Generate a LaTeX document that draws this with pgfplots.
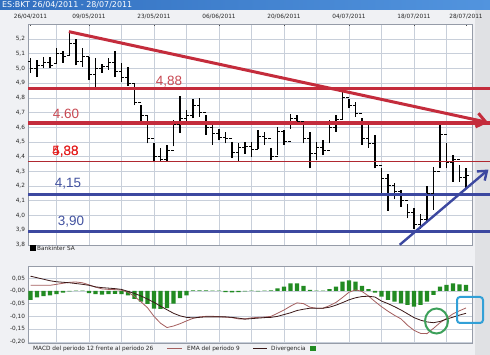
\documentclass[border=0pt]{standalone}
\usepackage{pgfplots}
\pgfplotsset{compat=1.18}
\usepackage{pgfplotstable}
\usepackage{fontspec}
\setmainfont{DejaVu Sans}
\newfontfamily\labfont{Liberation Sans}
\usetikzlibrary{arrows.meta}

\definecolor{titleA}{RGB}{50,112,192}
\definecolor{titleB}{RGB}{82,148,222}
\definecolor{bg}{RGB}{240,241,244}
\definecolor{strip}{RGB}{224,225,228}
\definecolor{gridc}{RGB}{200,207,218}
\definecolor{framec}{RGB}{150,156,168}
\definecolor{annred}{RGB}{196,44,60}
\definecolor{thinred}{RGB}{176,40,48}
\definecolor{labred}{RGB}{200,72,82}
\definecolor{brightred}{RGB}{228,30,30}
\definecolor{annblue}{RGB}{60,72,160}
\definecolor{labblue}{RGB}{66,82,160}
\definecolor{macdc}{RGB}{165,95,95}
\definecolor{sigc}{RGB}{60,25,25}
\definecolor{histc}{RGB}{34,139,34}
\definecolor{circc}{RGB}{60,160,90}
\definecolor{sqc}{RGB}{50,160,215}

\pgfdeclareplotmark{closeT}{\pgfpathmoveto{\pgfpointorigin}\pgfpathlineto{\pgfpoint{2.6bp}{0pt}}\pgfusepathqstroke}
\pgfdeclareplotmark{openT}{\pgfpathmoveto{\pgfpointorigin}\pgfpathlineto{\pgfpoint{-2.6bp}{0pt}}\pgfusepathqstroke}

\pgfplotstableread{
i lo hi o c
0 4.97 5.07 5.05 5.00
1 4.94 5.06 5.00 5.02
2 5.00 5.08 5.02 5.04
3 5.00 5.08 5.04 5.02
4 5.03 5.14 5.03 5.10
5 5.04 5.12 5.10 5.08
6 5.09 5.24 5.09 5.17
7 5.02 5.20 5.17 5.05
8 5.01 5.14 5.05 5.08
9 4.92 5.08 5.08 4.96
10 4.87 5.07 4.96 5.00
11 4.97 5.03 5.00 5.01
12 4.99 5.07 5.01 5.04
13 4.94 5.12 5.04 4.98
14 4.91 5.04 4.98 4.94
15 4.88 5.01 4.94 4.90
16 4.75 4.90 4.90 4.77
17 4.62 4.75 4.77 4.68
18 4.49 4.68 4.68 4.52
19 4.36 4.49 4.52 4.40
20 4.37 4.46 4.40 4.38
21 4.37 4.48 4.38 4.44
22 4.47 4.65 4.44 4.62
23 4.56 4.81 4.62 4.66
24 4.64 4.72 4.66 4.68
25 4.66 4.79 4.68 4.75
26 4.67 4.80 4.75 4.70
27 4.55 4.68 4.70 4.60
28 4.48 4.63 4.60 4.56
29 4.51 4.59 4.56 4.53
30 4.49 4.57 4.53 4.52
31 4.39 4.50 4.52 4.43
32 4.37 4.49 4.43 4.46
33 4.42 4.50 4.46 4.47
34 4.40 4.50 4.47 4.45
35 4.45 4.58 4.45 4.54
36 4.48 4.57 4.54 4.52
37 4.38 4.46 4.52 4.40
38 4.41 4.60 4.40 4.57
39 4.48 4.58 4.57 4.50
40 4.59 4.69 4.50 4.66
41 4.62 4.68 4.66 4.64
42 4.49 4.64 4.64 4.52
43 4.32 4.57 4.52 4.42
44 4.38 4.50 4.42 4.46
45 4.41 4.51 4.46 4.44
46 4.49 4.65 4.44 4.60
47 4.57 4.68 4.60 4.65
48 4.65 4.84 4.65 4.80
49 4.73 4.79 4.80 4.75
50 4.67 4.77 4.75 4.69
51 4.48 4.66 4.69 4.52
52 4.46 4.62 4.52 4.49
53 4.32 4.55 4.49 4.34
54 4.14 4.32 4.34 4.25
55 4.03 4.28 4.25 4.20
56 4.11 4.22 4.20 4.16
57 4.06 4.17 4.16 4.10
58 3.98 4.08 4.10 4.02
59 3.91 4.05 4.02 3.94
60 3.91 4.01 3.94 3.97
61 3.96 4.20 3.97 4.15
62 4.04 4.33 4.15 4.30
63 4.32 4.62 4.30 4.55
64 4.32 4.49 4.55 4.36
65 4.23 4.41 4.36 4.38
66 4.23 4.34 4.38 4.26
67 4.18 4.32 4.26 4.27
}\ohlc

\pgfplotstableread{
i macd sig hist
0 0.022 0.058 -0.035
1 0.022 0.052 -0.025
2 0.022 0.046 -0.020
3 0.022 0.040 -0.018
4 0.026 0.036 -0.013
5 0.030 0.034 -0.007
6 0.034 0.032 -0.002
7 0.035 0.029 0.001
8 0.032 0.026 0.001
9 0.024 0.022 -0.009
10 0.015 0.016 -0.013
11 0.008 0.013 -0.015
12 0.006 0.011 -0.013
13 0.005 0.009 -0.012
14 0.003 0.006 -0.013
15 -0.005 -0.002 -0.018
16 -0.022 -0.010 -0.031
17 -0.043 -0.020 -0.042
18 -0.066 -0.032 -0.051
19 -0.100 -0.045 -0.070
20 -0.127 -0.060 -0.071
21 -0.144 -0.074 -0.068
22 -0.138 -0.088 -0.050
23 -0.129 -0.098 -0.028
24 -0.118 -0.104 -0.018
25 -0.108 -0.106 0.002
26 -0.102 -0.104 0.002
27 -0.100 -0.102 0.002
28 -0.100 -0.102 0.001
29 -0.101 -0.102 0.001
30 -0.103 -0.102 -0.005
31 -0.105 -0.104 -0.006
32 -0.110 -0.107 -0.005
33 -0.110 -0.111 -0.002
34 -0.106 -0.109 0.001
35 -0.104 -0.107 -0.002
36 -0.103 -0.105 0.001
37 -0.100 -0.104 0.002
38 -0.088 -0.100 0.010
39 -0.075 -0.093 0.017
40 -0.060 -0.086 0.030
41 -0.047 -0.077 0.030
42 -0.050 -0.072 0.020
43 -0.064 -0.068 0.004
44 -0.068 -0.068 0.001
45 -0.068 -0.068 0.001
46 -0.058 -0.064 0.007
47 -0.045 -0.056 0.017
48 -0.026 -0.046 0.037
49 -0.005 -0.035 0.041
50 0.004 -0.027 0.037
51 -0.002 -0.022 0.020
52 -0.020 -0.021 0.007
53 -0.042 -0.024 -0.007
54 -0.062 -0.040 -0.022
55 -0.080 -0.050 -0.035
56 -0.096 -0.062 -0.042
57 -0.110 -0.075 -0.049
58 -0.135 -0.090 -0.055
59 -0.155 -0.105 -0.062
60 -0.167 -0.115 -0.055
61 -0.168 -0.122 -0.042
62 -0.147 -0.125 -0.016
63 -0.125 -0.120 0.017
64 -0.108 -0.111 0.024
65 -0.090 -0.103 0.030
66 -0.078 -0.095 0.026
67 -0.067 -0.088 0.024
}\macdtab

\begin{document}
\begin{tikzpicture}
\fill[bg] (0,0) rectangle (490bp,355bp);
\useasboundingbox (0,0) rectangle (490bp,355bp);
\fill[strip] (475bp,0) rectangle (490bp,345bp);
\shade[left color=titleA,right color=titleB] (0,345bp) rectangle (490bp,355bp);
\node[anchor=west,text=white,inner sep=0pt,font=\fontsize{8}{9}\selectfont] at (2bp,350bp) {ES:BKT 26/04/2011 - 28/07/2011};

% ---------------- price panel
\begin{axis}[
 at={(28bp,330.7bp)}, anchor=north west,
 width=444bp, height=220.5bp, scale only axis,
 xmin=-0.385, xmax=67.92, ymin=3.8, ymax=5.3,
 axis background/.style={fill=white},
 axis line style={framec, line width=0.5bp},
 xtick={0,9,19,29,39,49,59,67},
 xticklabels={26/04/2011,09/05/2011,23/05/2011,06/06/2011,20/06/2011,04/07/2011,18/07/2011,28/07/2011},
 xticklabel pos=right, xtick pos=right,
 minor xtick={4,9,14,19,24,29,34,39,44,49,54,59,64},
 xminorgrids, minor tick length=0pt,
 ytick={3.8,3.9,4.0,4.1,4.2,4.3,4.4,4.5,4.6,4.7,4.8,4.9,5.0,5.1,5.2},
 yticklabels={{3,8},{3,9},{4,0},{4,1},{4,2},{4,3},{4,4},{4,5},{4,6},{4,7},{4,8},{4,9},{5,0},{5,1},{5,2}},
 ymajorgrids,
 grid style={gridc, line width=0.5bp},
 minor grid style={gridc, line width=0.5bp},
 major grid style={gridc, line width=0.5bp},
 tick label style={font=\fontsize{5.8}{6}\selectfont, text=black!85},
 xticklabel style={yshift=1.5bp},
 yticklabel style={xshift=0.5bp},
 major tick length=2bp, tick align=inside,
 ytick style={draw=none}, xtick style={black!70, line width=0.6bp},
 clip=false,
]
\addplot[draw=none, mark=none, forget plot,
  error bars/.cd, y dir=plus, y explicit, error mark=none,
  error bar style={line width=1.6bp, draw=black}]
  table[x=i, y=lo, y error expr=\thisrow{hi}-\thisrow{lo}] {\ohlc};
\addplot[only marks, mark=openT, mark options={line width=1bp, draw=black}] table[x=i, y=o] {\ohlc};
\addplot[only marks, mark=closeT, mark options={line width=1bp, draw=black}] table[x=i, y=c] {\ohlc};

\draw[annred, line width=3.2bp] (axis cs:-0.385,4.862) -- (axis cs:70.7,4.862);
\draw[annred, line width=3.2bp] (axis cs:-0.385,4.629) -- (axis cs:70.7,4.629);
\draw[thinred, line width=0.9bp] (axis cs:-0.385,4.365) -- (axis cs:70.7,4.365);
\draw[annblue, line width=3bp] (axis cs:-0.385,4.143) -- (axis cs:70.7,4.143);
\draw[annblue, line width=3bp] (axis cs:-0.385,3.889) -- (axis cs:70.7,3.889);
\draw[annred, line width=3bp, -{Straight Barb[length=9bp,width=14bp]}] (axis cs:5.9,5.25) -- (axis cs:70.4,4.632);
\draw[annblue, line width=2.4bp, -{Straight Barb[length=8bp,width=12bp]}] (axis cs:56.8,3.80) -- (axis cs:70.45,4.312);
\end{axis}

% annotation labels
\node[text=labred, font=\labfont\fontsize{13.5}{14}\selectfont, inner sep=0pt] at (66bp,241bp) {4.60};
\node[text=labred, font=\labfont\fontsize{13.5}{14}\selectfont, inner sep=0pt] at (169bp,273.5bp) {4,88};
\node[text=brightred, font=\labfont\fontsize{13.5}{14}\selectfont, inner sep=0pt] at (65.5bp,203bp) {4,38};
\node[text=brightred, font=\labfont\fontsize{13.5}{14}\selectfont, inner sep=0pt] at (65.5bp,203bp) {5,88};
\node[text=labblue, font=\labfont\fontsize{13.5}{14}\selectfont, inner sep=0pt] at (68bp,171bp) {4,15};
\node[text=labblue, font=\labfont\fontsize{13.5}{14}\selectfont, inner sep=0pt] at (71bp,133bp) {3,90};

% price legend
\fill[black] (30bp,104bp) rectangle (35.5bp,109.5bp);
\node[anchor=west, inner sep=0pt, font=\fontsize{5.8}{6}\selectfont, text=black!85] at (37bp,106.8bp) {Bankinter SA};

% ---------------- MACD panel
\begin{axis}[
 at={(28bp,89bp)}, anchor=north west,
 width=444bp, height=77.3bp, scale only axis,
 xmin=-0.385, xmax=67.92, ymin=-0.206, ymax=0.098,
 axis background/.style={fill=white},
 axis line style={framec, line width=0.5bp},
 xtick={4,9,14,19,24,29,34,39,44,49,54,59,64}, xticklabels={},
 xmajorgrids,
 ytick={-0.2,-0.15,-0.1,-0.05,0,0.05},
 yticklabels={{-0,20},{-0,15},{-0,10},{-0,05},{-0,00},{0,05}},
 ymajorgrids,
 grid style={gridc, line width=0.5bp},
 major grid style={gridc, line width=0.5bp},
 tick label style={font=\fontsize{5.8}{6}\selectfont, text=black!85},
 yticklabel style={xshift=0.5bp},
 major tick length=0pt,
 tick style={draw=none},
 clip=false,
]
\addplot[ybar, bar width=4.2bp, fill=histc, draw=none] table[x=i, y=hist] {\macdtab};
\addplot[macdc, line width=0.8bp, mark=none] table[x=i, y=macd] {\macdtab};
\addplot[sigc, line width=0.8bp, mark=none] table[x=i, y=sig] {\macdtab};
\end{axis}

% MACD legend
\node[anchor=west, inner sep=0pt, font=\fontsize{5.8}{6}\selectfont, text=black!85] at (33bp,6bp) {MACD del periodo 12 frente al periodo 26};
\draw[macdc, line width=1.4bp] (167bp,6.5bp) -- (182bp,6.5bp);
\node[anchor=west, inner sep=0pt, font=\fontsize{5.8}{6}\selectfont, text=black!85] at (187bp,6bp) {EMA del periodo 9};
\draw[sigc, line width=1.4bp] (253bp,6.5bp) -- (267bp,6.5bp);
\node[anchor=west, inner sep=0pt, font=\fontsize{5.8}{6}\selectfont, text=black!85] at (271bp,6bp) {Divergencia};
\fill[histc] (310bp,3.5bp) rectangle (315.5bp,9bp);

% highlight shapes
\draw[circc, line width=2bp] (436.5bp,34bp) ellipse [x radius=11.5bp, y radius=12.5bp];
\draw[sqc, line width=2bp, rounded corners=3bp] (457bp,32bp) rectangle (483bp,58bp);
\end{tikzpicture}
\end{document}
